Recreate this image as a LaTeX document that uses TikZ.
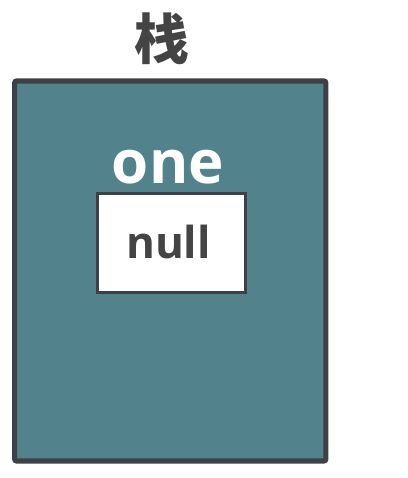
\documentclass[tikz,border=0pt]{standalone}
\usepackage{fontspec}
\setmainfont{Open Sans}
\newfontfamily\cjk{Noto Sans CJK SC}
\usepackage{tikz}
\usetikzlibrary{positioning,calc}
\definecolor{stackteal}{HTML}{52838C}
\definecolor{edgegray}{HTML}{3D4044}
\definecolor{textgray}{HTML}{444444}

\begin{document}
\begin{tikzpicture}[x=0.75pt, y=-0.75pt]
  % styles
  \tikzstyle{frame}=[rectangle, draw=edgegray, fill=stackteal, line width=3.8pt, rounded corners=1.5pt, minimum width=233.5pt, minimum height=285pt, inner sep=0pt];
  \tikzstyle{cell}=[rectangle, draw=edgegray, fill=white, line width=2.2pt, minimum width=111pt, minimum height=74.3pt, inner sep=0pt];

  \useasboundingbox (0,0) rectangle (407,478);

  %==================== STACK ====================
  \node[frame] (stack) at (170.25,271) {};
  \node[font=\cjk\bfseries\fontsize{41}{41}\selectfont, text=textgray] (title) at (162,39) {栈};
  \node[cell] (onebox) at (171.5,243) {};
  \node[font=\bfseries\fontsize{45}{45}\selectfont, text=white, anchor=base] (varname) at (168,183) {one};
  \node[font=\bfseries\fontsize{33}{33}\selectfont, text=textgray, anchor=base] (val) at (168.5,258) {null};
\end{tikzpicture}
\end{document}
